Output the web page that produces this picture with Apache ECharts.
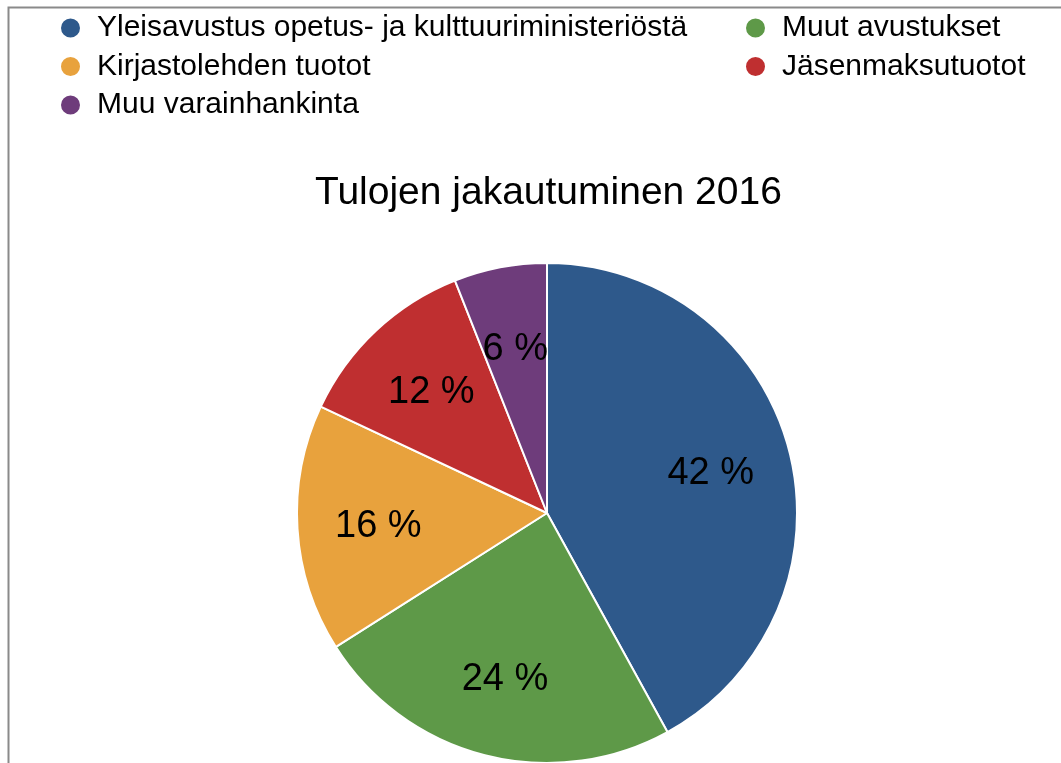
<!DOCTYPE html>
<html>
<head>
<meta charset="utf-8">
<script src="https://cdn.jsdelivr.net/npm/echarts@6/dist/echarts.min.js"></script>
<style>
  html, body { margin: 0; padding: 0; background: #fff; }
  #chart { width: 1061px; height: 763px; }
</style>
</head>
<body>
<div id="chart"></div>
<script>
const titleText = 'Tulojen jakautuminen 2016'
const categories = [
  'Yleisavustus opetus- ja kulttuuriministeriöstä',
  'Muut avustukset',
  'Kirjastolehden tuotot',
  'Jäsenmaksutuotot',
  'Muu varainhankinta',
]
const shares = [42, 24, 16, 12, 6]
const colors = ['#2e598b', '#5e9948', '#e8a23d', '#bf2f30', '#6e3c7b']

const legendLeft = [categories[0], categories[2], categories[4]]
const legendRight = [categories[1], categories[3]]

const font = '"Liberation Sans", Arial, Helvetica, sans-serif'

const pieData = categories.map((name, i) => ({
  name,
  value: shares[i],
  itemStyle: { color: colors[i] },
}))

const legendBase = {
  orient: 'vertical',
  icon: 'circle',
  itemWidth: 21,
  itemHeight: 21,
  itemGap: 8.5,
  selectedMode: false,
  textStyle: {
    fontFamily: font,
    fontSize: 30,
    color: '#000',
    padding: [0, 0, 0, 11],
  },
}

const chart = echarts.init(document.getElementById('chart'))

chart.setOption({
  animation: false,
  color: colors,
  title: {
    text: titleText,
    left: 310,
    top: 169,
    textStyle: {
      fontFamily: font,
      fontSize: 39,
      fontWeight: 'normal',
      color: '#000',
    },
  },
  legend: [
    Object.assign({}, legendBase, { data: legendLeft, left: 54, top: 8 }),
    Object.assign({}, legendBase, { data: legendRight, left: 739, top: 8 }),
  ],
  graphic: [{
    type: 'rect',
    shape: { x: 8.5, y: 7.5, width: 1200, height: 900 },
    style: { fill: 'none', stroke: '#8a8a8a', lineWidth: 2 },
    silent: true,
  }],
  series: [
    {
      type: 'pie',
      center: [547, 513],
      radius: 250,
      startAngle: 90,
      clockwise: true,
      data: pieData,
      label: { show: false },
      labelLine: { show: false },
      itemStyle: { borderColor: '#fff', borderWidth: 2 },
      emphasis: { disabled: true },
    },
    {
      // label-only ring so the texts sit at about two thirds of the radius
      type: 'pie',
      center: [547, 513],
      radius: [82, 250],
      startAngle: 90,
      clockwise: true,
      silent: true,
      data: pieData.map(d => ({ name: d.name, value: d.value })),
      itemStyle: { color: 'rgba(0,0,0,0)' },
      label: {
        show: true,
        position: 'inside',
        formatter: '{c} %',
        fontFamily: font,
        fontSize: 38,
        color: '#000',
        offset: [0, 3],
      },
      labelLine: { show: false },
      emphasis: { disabled: true },
    },
  ],
})
</script>
</body>
</html>
